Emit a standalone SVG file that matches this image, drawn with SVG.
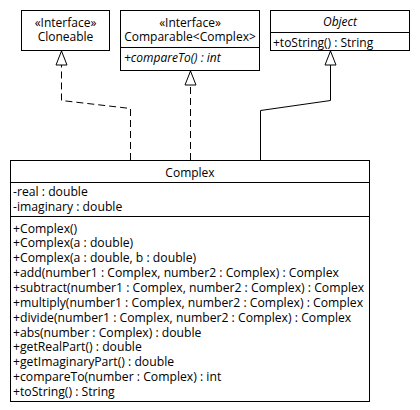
<svg xmlns="http://www.w3.org/2000/svg" width="420" height="410" viewBox="0 0 420 410">
  <style>
    .box { fill: #ffffff; stroke: #000000; stroke-width: 1; }
    .sep { stroke: #000000; stroke-width: 1; }
    text { font-family: "Open Sans", "Noto Sans", "DejaVu Sans", sans-serif; font-size: 12px; fill: #000000; }
    .m { font-size: 12.2px; }
    .c { text-anchor: middle; }
    .i { font-style: italic; }
    .dash { fill: none; stroke: #000000; stroke-width: 1; stroke-dasharray: 7 4; }
    .solid { fill: none; stroke: #000000; stroke-width: 1; }
  </style>
  <defs>
    <!-- hollow triangle head for realization / generalization -->
    <marker id="tri" markerWidth="16" markerHeight="13" refX="15" refY="6.5" orient="auto" markerUnits="userSpaceOnUse">
      <path d="M1,1 L15,6.5 L1,12 Z" fill="#ffffff" stroke="#000000" stroke-width="1"/>
    </marker>
  </defs>
  <rect width="420" height="410" fill="#ffffff"/>

  <g id="connectors">
    <path class="dash" d="M130.5,160 L130.5,108.5 L61.5,100.5 L61.5,61"/>
    <path class="dash" d="M190.5,160 L190.5,81"/>
    <path class="solid" d="M260.5,160 L260.5,110.5 L330.5,100.5 L330.5,61"/>
    <path class="solid" d="M61.5,61 L61.5,51" marker-end="url(#tri)"/>
    <path class="solid" d="M190.5,81 L190.5,71" marker-end="url(#tri)"/>
    <path class="solid" d="M330.5,61 L330.5,51" marker-end="url(#tri)"/>
  </g>

  <g id="cloneable">
    <rect class="box" x="21.5" y="10.5" width="88" height="40"/>
    <text class="c" x="65.5" y="26.5">«Interface»</text>
    <text class="c" x="65.5" y="40.5">Cloneable</text>
  </g>

  <g id="comparable">
    <rect class="box" x="120.5" y="10.5" width="139" height="60"/>
    <line class="sep" x1="120.5" y1="47.5" x2="259.5" y2="47.5"/>
    <text class="c" x="190" y="26.5">«Interface»</text>
    <text class="c" x="190" y="40.5">Comparable&lt;Complex&gt;</text>
    <text class="i" x="124" y="61.5">+compareTo() : int</text>
  </g>

  <g id="object">
    <rect class="box" x="270.5" y="10.5" width="139" height="40"/>
    <line class="sep" x1="270.5" y1="32.5" x2="409.5" y2="32.5"/>
    <text class="c i" x="340" y="25.5">Object</text>
    <text x="273" y="47">+toString() : String</text>
  </g>

  <g id="complex">
    <rect class="box" x="10.5" y="160.5" width="359" height="241"/>
    <line class="sep" x1="10.5" y1="182.5" x2="369.5" y2="182.5"/>
    <line class="sep" x1="10.5" y1="216.5" x2="369.5" y2="216.5"/>
    <text class="c" x="190" y="177">Complex</text>
    <text class="m" x="13" y="196">-real : double</text>
    <text class="m" x="13" y="211">-imaginary : double</text>
    <text class="m" x="13" y="232.5">+Complex()</text>
    <text class="m" x="13" y="247.3">+Complex(a : double)</text>
    <text class="m" x="13" y="262.1">+Complex(a : double, b : double)</text>
    <text class="m" x="13" y="276.9">+add(number1 : Complex, number2 : Complex) : Complex</text>
    <text class="m" x="13" y="291.8">+subtract(number1 : Complex, number2 : Complex) : Complex</text>
    <text class="m" x="13" y="306.7">+multiply(number1 : Complex, number2 : Complex) : Complex</text>
    <text class="m" x="13" y="321.6">+divide(number1 : Complex, number2 : Complex) : Complex</text>
    <text class="m" x="13" y="336.5">+abs(number : Complex) : double</text>
    <text class="m" x="13" y="351.4">+getRealPart() : double</text>
    <text class="m" x="13" y="366.3">+getImaginaryPart() : double</text>
    <text class="m" x="13" y="381.2">+compareTo(number : Complex) : int</text>
    <text class="m" x="13" y="396.1">+toString() : String</text>
  </g>
</svg>
